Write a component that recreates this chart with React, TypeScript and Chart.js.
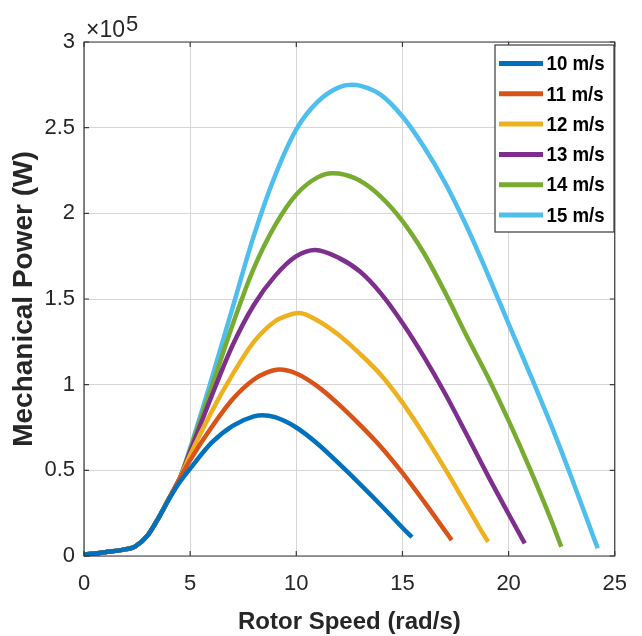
import { useEffect, useRef } from 'react';
import { Chart, registerables } from 'chart.js';

Chart.register(...registerables);

const FONT = "'Liberation Sans', Arial, Helvetica, sans-serif";

const seriesLabels = ['10 m/s', '11 m/s', '12 m/s', '13 m/s', '14 m/s', '15 m/s'];
const seriesColors = ['#0072BD', '#D95319', '#EDB120', '#7E2F8E', '#77AC30', '#4DBEEE'];

// Rotor speed (rad/s) and mechanical power (W)
const speed10 = [0, 1, 2, 2.4, 3, 3.5, 4, 4.5, 5, 6, 7, 8, 8.4, 9, 10, 11, 12, 13, 14, 15, 15.45];
const power10 = [800, 2200, 4000, 5500, 12000, 22000, 33000, 43000, 51000, 66000, 76000, 81500, 82200, 81000, 75000, 65500, 54000, 42000, 29500, 16500, 11000];

const speed11 = [0, 1, 2, 2.4, 3, 3.5, 4, 4.5, 5, 6, 7, 8, 8.6, 9.2, 10, 11, 12, 13, 14, 15, 16, 17, 17.32];
const power11 = [800, 2200, 4000, 5500, 12000, 22000, 33500, 45000, 56000, 75000, 91500, 103000, 107000, 108800, 106500, 99000, 88500, 76500, 63500, 48500, 32000, 14800, 9300];

const speed12 = [0, 1, 2, 2.4, 3, 3.5, 4, 4.5, 5, 6, 7, 8, 9, 9.5, 10.13, 11, 12, 13, 14, 15, 16, 17, 18, 19, 19.04];
const power12 = [800, 2200, 4000, 5500, 12000, 22000, 33500, 45000, 59000, 84000, 106000, 125000, 137000, 140000, 141800, 137500, 129000, 118000, 105500, 89500, 71000, 51000, 30000, 9000, 8300];

const speed13 = [0, 1, 2, 2.4, 3, 3.5, 4, 4.5, 5, 6, 7, 8, 9, 10, 10.9, 12, 13, 14, 15, 16, 17, 18, 19, 20, 20.76];
const power13 = [800, 2200, 4000, 5500, 12000, 22000, 33500, 45000, 61000, 93000, 123000, 146500, 163500, 175000, 178600, 174000, 166000, 153000, 136000, 116500, 95000, 71500, 47500, 24500, 7400];

const speed14 = [0, 1, 2, 2.4, 3, 3.5, 4, 4.5, 5, 6, 7, 8, 9, 10, 11, 11.7, 12, 13, 14, 15, 16, 17, 18, 19, 20, 21, 22, 22.48];
const power14 = [800, 2200, 4000, 5500, 12000, 22000, 33500, 45000, 62000, 98000, 135000, 168000, 193000, 211000, 221000, 223400, 223200, 219000, 209500, 195500, 177000, 154000, 129000, 105000, 79000, 51000, 21000, 5400];

const speed15 = [0, 1, 2, 2.4, 3, 3.5, 4, 4.5, 5, 6, 7, 8, 9, 10, 11, 12, 12.6, 13, 14, 15, 16, 17, 18, 19, 20, 21, 22, 23, 24, 24.2];
const power15 = [800, 2200, 4000, 5500, 12000, 22000, 33500, 45000, 63000, 103000, 145000, 187000, 222000, 249000, 265000, 273500, 275000, 274500, 269000, 256500, 239000, 218000, 193000, 165000, 135500, 106500, 76500, 44500, 11000, 4500];

const seriesSpeeds = [speed10, speed11, speed12, speed13, speed14, speed15];
const seriesPowers = [power10, power11, power12, power13, power14, power15];

const xMin = 0;
const xMax = 25;
const xStep = 5;
const yMin = 0;
const yMax = 300000;
const yStep = 50000;
const yExponent = 5;

const boxPlugin = {
  id: 'matlabBox',
  afterDatasetsDraw(chart: any) {
    const { ctx, chartArea } = chart;
    const { left, right, top, bottom } = chartArea;
    const xs = chart.scales.x;
    const ys = chart.scales.y;
    ctx.save();
    ctx.strokeStyle = '#3a3a3a';
    ctx.lineWidth = 1.2;
    ctx.beginPath();
    ctx.rect(left, top, right - left, bottom - top);
    ctx.stroke();
    const tl = 5;
    ctx.beginPath();
    xs.ticks.forEach((t: any) => {
      const px = xs.getPixelForValue(t.value);
      ctx.moveTo(px, bottom);
      ctx.lineTo(px, bottom - tl);
      ctx.moveTo(px, top);
      ctx.lineTo(px, top + tl);
    });
    ys.ticks.forEach((t: any) => {
      const py = ys.getPixelForValue(t.value);
      ctx.moveTo(left, py);
      ctx.lineTo(left + tl, py);
      ctx.moveTo(right, py);
      ctx.lineTo(right - tl, py);
    });
    ctx.stroke();
    ctx.restore();
  },
  afterDraw(chart: any) {
    const { ctx, chartArea } = chart;
    ctx.save();
    // exponent label
    ctx.fillStyle = '#262626';
    ctx.textBaseline = 'alphabetic';
    ctx.textAlign = 'left';
    ctx.font = `23px ${FONT}`;
    const base = '\u00d710';
    ctx.fillText(base, chartArea.left + 2, 37);
    const w = ctx.measureText(base).width;
    ctx.font = `22px ${FONT}`;
    ctx.fillText(String(yExponent), chartArea.left + 2 + w + 1, 31);

    // legend
    const bx = 495, by = 45, bw = 119, bh = 187;
    ctx.fillStyle = '#ffffff';
    ctx.fillRect(bx, by, bw, bh);
    ctx.strokeStyle = '#3a3a3a';
    ctx.lineWidth = 1.2;
    ctx.strokeRect(bx, by, bw, bh);
    chart.data.datasets.forEach((ds: any, i: number) => {
      const cy = 63.5 + i * 30.3;
      ctx.strokeStyle = ds.borderColor;
      ctx.lineWidth = 5;
      ctx.lineCap = 'butt';
      ctx.beginPath();
      ctx.moveTo(499, cy);
      ctx.lineTo(543, cy);
      ctx.stroke();
      ctx.save();
      ctx.translate(546.5, cy + 1);
      ctx.scale(0.89, 1);
      ctx.fillStyle = '#000000';
      ctx.font = `bold 21px ${FONT}`;
      ctx.textBaseline = 'middle';
      ctx.textAlign = 'left';
      ctx.fillText(ds.label, 0, 0);
      ctx.restore();
    });
    ctx.restore();
  },
};

export default function App() {
  const ref = useRef<HTMLCanvasElement>(null);
  useEffect(() => {
    document.body.style.margin = '0';
    const canvas = ref.current!;
    const chart = new Chart(canvas, {
      type: 'line',
      data: {
        datasets: seriesLabels.map((label, i) => ({
          label,
          data: seriesSpeeds[i].map((x, j) => ({ x, y: seriesPowers[i][j] })),
          borderColor: seriesColors[i],
          backgroundColor: seriesColors[i],
          borderWidth: 4.5,
          pointRadius: 0,
          fill: false,
          cubicInterpolationMode: 'monotone' as const,
          borderJoinStyle: 'round' as const,
          clip: 4,
        })),
      },
      options: {
        responsive: false,
        animation: false,
        layout: { padding: { top: 42, right: 25, left: 0, bottom: 0 } },
        plugins: { legend: { display: false }, tooltip: { enabled: false } },
        scales: {
          x: {
            type: 'linear',
            min: xMin,
            max: xMax,
            afterFit: (s: any) => {
              s.height = 80;
            },
            ticks: {
              stepSize: xStep,
              font: { family: FONT, size: 22 },
              color: '#262626',
              padding: 15,
              maxRotation: 0,
            },
            grid: { color: '#d6d6d6', lineWidth: 1, drawTicks: false },
            border: { display: false },
            title: {
              display: true,
              text: 'Rotor Speed (rad/s)',
              color: '#262626',
              font: { family: FONT, size: 24, weight: 'bold', lineHeight: 1.15 },
              padding: 0,
            },
          },
          y: {
            type: 'linear',
            min: yMin,
            max: yMax,
            afterFit: (s: any) => {
              s.width = 84;
            },
            ticks: {
              stepSize: yStep,
              font: { family: FONT, size: 22 },
              color: '#262626',
              padding: 9,
              callback: (v: any) => String(Number(v) / Math.pow(10, yExponent)),
            },
            grid: { color: '#d6d6d6', lineWidth: 1, drawTicks: false },
            border: { display: false },
            title: {
              display: true,
              text: 'Mechanical Power (W)',
              color: '#262626',
              font: { family: FONT, size: 28, weight: 'bold', lineHeight: 1.2 },
              padding: { top: 7, bottom: 0 },
            },
          },
        },
      },
      plugins: [boxPlugin],
    } as any);
    return () => chart.destroy();
  }, []);
  return (
    <div style={{ width: 642, height: 636 }}>
      <canvas ref={ref} width={642} height={636} style={{ display: 'block' }} />
    </div>
  );
}
